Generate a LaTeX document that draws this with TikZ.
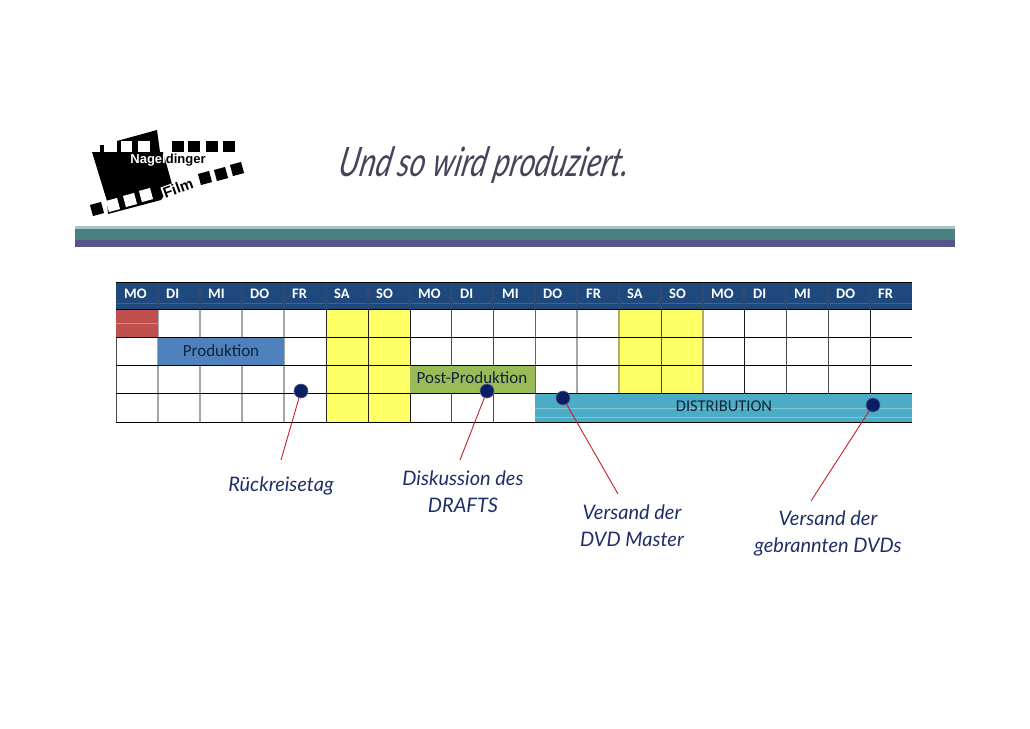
\documentclass[tikz,border=0pt]{standalone}
\usepackage{fontspec}
\setmainfont{Carlito}
\newfontfamily\notefont{Lato}
\newfontfamily\logofont{Liberation Sans}
\definecolor{hdr}{HTML}{1F497D}
\definecolor{hdrline}{HTML}{3A639A}
\definecolor{hdrsep}{HTML}{2E4A70}
\definecolor{redbar}{HTML}{C0504D}
\definecolor{bluebar}{HTML}{4F81BD}
\definecolor{greenbar}{HTML}{9BBB59}
\definecolor{cyanbar}{HTML}{4BACC6}
\definecolor{wkend}{HTML}{FFFF66}
\definecolor{tanline}{HTML}{B0AC6A}
\definecolor{teal2}{HTML}{4A8080}
\definecolor{teal1}{HTML}{A5C5C5}
\definecolor{purp}{HTML}{555588}
\definecolor{dotc}{HTML}{0A1F63}
\definecolor{notec}{HTML}{1F2F66}
\definecolor{titlec}{HTML}{44445A}
\definecolor{linered}{HTML}{C8202A}
\definecolor{bartext}{HTML}{10243C}
\tikzset{
  x=1pt,y=-1pt,
  dayname/.style={anchor=west,text=white,font=\bfseries\fontsize{14.5}{14.5}\selectfont,inner sep=0pt},
  barbox/.style={anchor=north west,minimum height=28pt,inner sep=0pt},
  barlabel/.style={inner sep=0pt,font=\fontsize{17}{17}\selectfont,text=bartext},
  pin/.style={circle,fill=dotc,draw=dotc!70!white,line width=0.6pt,minimum size=14pt,inner sep=0pt},
  pinline/.style={draw=linered,line width=0.9pt},
  note/.style={align=center,text=notec,font=\notefont\itshape\fontsize{20}{27}\selectfont,inner sep=0pt},
  gridh/.style={draw=black,line width=1pt},
  gridv/.style={line width=1pt},
  filmhole/.style={fill=black,minimum size=11.5pt,inner sep=0pt},
}
\begin{document}
\begin{tikzpicture}
\useasboundingbox (0,0) rectangle (1030,728);
\fill[white] (0,0) rectangle (1030,728);
% logo
\fill[black] (92,152) -- (163,152) -- (172,184) -- (161,200) -- (108,214) -- (107,201) -- cycle;
\fill[black] (100,145) rectangle (104,152);
\fill[black] (117,141) -- (157,130) -- (160,152) -- (117,152) -- cycle;
\fill[white] (121,141) rectangle (132,152);
\fill[white] (138,141) rectangle (150,152);
\foreach \n/\x in {a/178,b/194,c/212,d/229}
  \node[filmhole] (t\n) at (\x,146.5) {};
\foreach \n/\x/\y in {a/205/178,b/221/174,c/237/169}
  \node[filmhole,rotate=15] (r\n) at (\x,\y) {};
\node[filmhole,rotate=15] (la) at (97,209) {};
\foreach \n/\x/\y in {b/113/205,c/130/200,d/146/195}
  \node[filmhole,fill=white,rotate=15] (l\n) at (\x,\y) {};
\node[inner sep=0pt,font=\logofont\bfseries\fontsize{13}{13}\selectfont] (logoname) at (168,160) {\textcolor{white}{Nagel}\textcolor{black}{dinger}};
\node[inner sep=1pt,fill=white,rotate=20,font=\logofont\bfseries\fontsize{15}{15}\selectfont] (logofilm) at (178,188) {Film};
% title
\node[inner sep=0pt,text=titlec,font=\notefont\itshape\fontsize{30}{30}\selectfont,xslant=0.2,yscale=1.35] (title) at (485,165) {Und so wird produziert.};
% band
\fill[teal1] (75,226) rectangle (955,228.5);
\fill[teal2] (75,228.5) rectangle (955,240);
\fill[purp] (75,240) rectangle (955,247);
% weekend fills
\fill[wkend] (326,309) rectangle (410,422);
\fill[wkend] (619,309) rectangle (703,393);
% header
\fill[hdr] (116,282) rectangle (912,309);
\draw[hdrline,line width=.6pt] (116,303) -- (912,303);
% vertical grid
\foreach \x/\c/\w in {116/black!70/1,158/black!35/1.3,200/black!35/1.3,242/black!35/1.3,284/black!35/1.3,326/black!85/1,368/black!85/1,410/black!90/1,451/black!70/1,493/black!70/1,535/black!60/1,577/black!35/1.3,619/tanline/1.3,661/black!70/1,703/tanline/1.3,744/black!90/.9,786/black!70/1,828/black!70/1,870/black!90/.9}{
  \draw[gridv,line width=\w pt,draw=\c] (\x,309) -- (\x,393);
}
\foreach \x/\c/\w in {116/black!70/1,158/black!35/1.3,200/black!35/1.3,242/black!35/1.3,284/black!35/1.3,326/black!85/1,368/black!85/1,410/black!90/1,451/black!70/1,493/black!70/1}{
  \draw[gridv,line width=\w pt,draw=\c] (\x,393) -- (\x,422);
}
\foreach \x in {158,200,242,284,326,368,410,451,493,535,577,619,661,703,744,786,828,870}
  \draw[hdrsep,line width=1.2pt] (\x,282) -- (\x,309);
% bars
\node[barbox,fill=redbar,minimum width=42pt] (kickoff) at (116,309) {};
\node[barbox,fill=bluebar,minimum width=126pt] (prod) at (158,337) {};
\node[barbox,fill=greenbar,minimum width=125pt] (post) at (410,365) {};
\node[barbox,fill=cyanbar,minimum width=377pt,minimum height=29pt] (dist) at (535,393) {};
% faint lines
\draw[white,opacity=.35,line width=.6pt] (116,323) -- (158,323);
\draw[white,opacity=.3,line width=.6pt] (535,408) -- (912,408) (535,417) -- (912,417);
% horizontal grid
\draw[gridh] (116,282) -- (912,282);
\foreach \y in {309,337,365,393,422}
  \draw[gridh] (116,\y) -- (912,\y);
% bar labels
\node[barlabel] (prodlabel) at (221,350.5) {Produktion};
\node[barlabel] (postlabel) at (472,377.5) {Post-Produktion};
\node[barlabel,font=\fontsize{16.5}{16.5}\selectfont] (distlabel) at (724,406.5) {DISTRIBUTION};
% day names
\foreach \n/\t/\x in {1/MO/124,2/DI/166,3/MI/208,4/DO/250,5/FR/292,6/SA/334,7/SO/376,8/MO/418,9/DI/460,10/MI/502,11/DO/543,12/FR/586,13/SA/627,14/SO/669,15/MO/711,16/DI/753,17/MI/794,18/DO/836,19/FR/878}
  \node[dayname] (d\n) at (\x,294) {\t};
% pins
\node[pin] (p1) at (301,391) {};
\node[pin] (p2) at (487,391) {};
\node[pin] (p3) at (563,398) {};
\node[pin] (p4) at (873,405) {};
\coordinate (e1) at (281,460);
\coordinate (e2) at (460,460);
\coordinate (e3) at (618,494);
\coordinate (e4) at (811,501);
\foreach \i in {1,2,3,4} \draw[pinline] (p\i) -- (e\i);
% notes
\node[note] (n1) at (281,486) {Rückreisetag};
\node[note] (n2) at (463,491.5) {Diskussion des\\DRAFTS};
\node[note] (n3) at (632,525.5) {Versand der\\DVD Master};
\node[note] (n4) at (828,533) {Versand der\\gebrannten DVDs};
\end{tikzpicture}
\end{document}
